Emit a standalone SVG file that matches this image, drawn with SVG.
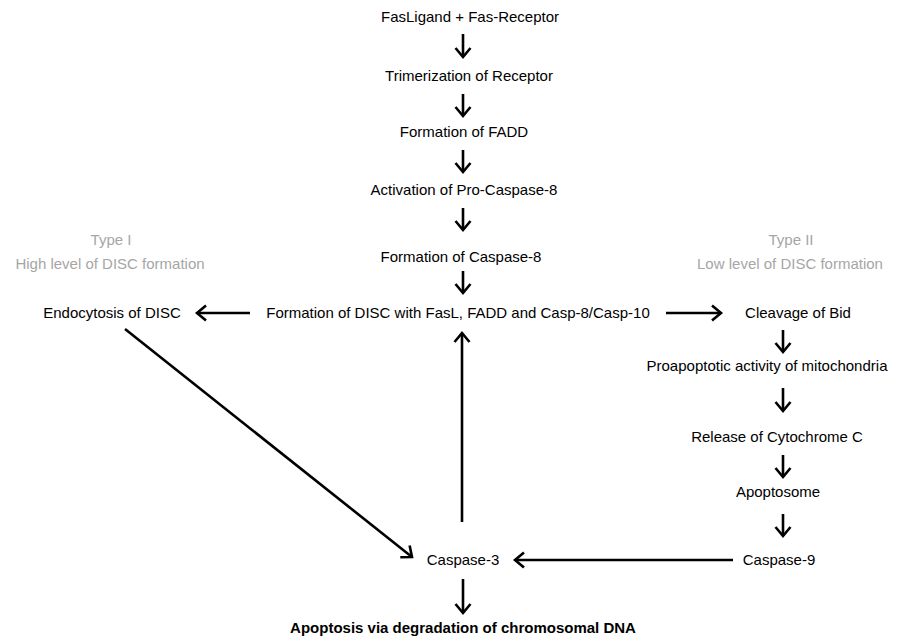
<svg xmlns="http://www.w3.org/2000/svg" width="901" height="639" viewBox="0 0 901 639">
<defs>
<marker id="ah" markerUnits="userSpaceOnUse" markerWidth="20" markerHeight="20" viewBox="-12 -10 14 20" refX="0" refY="0" orient="auto">
<path d="M-9,-7.5 L0,0 L-9,7.5" fill="none" stroke="#000" stroke-width="2.6" stroke-linecap="butt" stroke-linejoin="miter"/>
</marker>
</defs>
<style>
text{font-family:"Liberation Sans",Arial,sans-serif;font-size:15px;fill:#000;text-anchor:middle}
.g{fill:#a6a6a6}
.b{font-weight:bold}
.c line{stroke:#000;stroke-width:2.6;marker-end:url(#ah)}
</style>
<rect width="901" height="639" fill="#fff"/>
<g id="n1"><text x="470" y="22">FasLigand + Fas-Receptor</text></g>
<g id="n2"><text x="469" y="81">Trimerization of Receptor</text></g>
<g id="n3"><text x="464" y="137">Formation of FADD</text></g>
<g id="n4"><text x="464" y="195">Activation of Pro-Caspase-8</text></g>
<g id="n5"><text x="461" y="262">Formation of Caspase-8</text></g>
<g id="n6"><text x="458" y="318">Formation of DISC with FasL, FADD and Casp-8/Casp-10</text></g>
<g id="n7"><text x="112" y="318">Endocytosis of DISC</text></g>
<g id="typeI"><text class="g" x="111" y="245">Type I</text><text class="g" x="110" y="269">High level of DISC formation</text></g>
<g id="typeII"><text class="g" x="791" y="245">Type II</text><text class="g" x="790" y="269">Low level of DISC formation</text></g>
<g id="n8"><text x="798" y="318">Cleavage of Bid</text></g>
<g id="n9"><text x="767" y="371">Proapoptotic activity of mitochondria</text></g>
<g id="n10"><text x="777" y="442">Release of Cytochrome C</text></g>
<g id="n11"><text x="778" y="497">Apoptosome</text></g>
<g id="n12"><text x="779" y="565">Caspase-9</text></g>
<g id="n13"><text x="463" y="565">Caspase-3</text></g>
<g id="n14"><text class="b" x="463" y="633">Apoptosis via degradation of chromosomal DNA</text></g>
<g id="connectors" class="c">
<line x1="463" y1="34" x2="463" y2="57"/>
<line x1="463" y1="94" x2="463" y2="116"/>
<line x1="463" y1="150" x2="463" y2="172"/>
<line x1="463" y1="208" x2="463" y2="230"/>
<line x1="463" y1="271" x2="463" y2="293"/>
<line x1="250" y1="313" x2="197" y2="313"/>
<line x1="666" y1="313" x2="721" y2="313"/>
<line x1="783" y1="330" x2="783" y2="352"/>
<line x1="783" y1="388" x2="783" y2="411"/>
<line x1="783" y1="455" x2="783" y2="477"/>
<line x1="783" y1="514" x2="783" y2="536"/>
<line x1="733" y1="560" x2="515" y2="560"/>
<line x1="125" y1="329" x2="412" y2="557"/>
<line x1="462" y1="522" x2="462" y2="333"/>
<line x1="463" y1="579" x2="463" y2="613"/>
</g>
</svg>
